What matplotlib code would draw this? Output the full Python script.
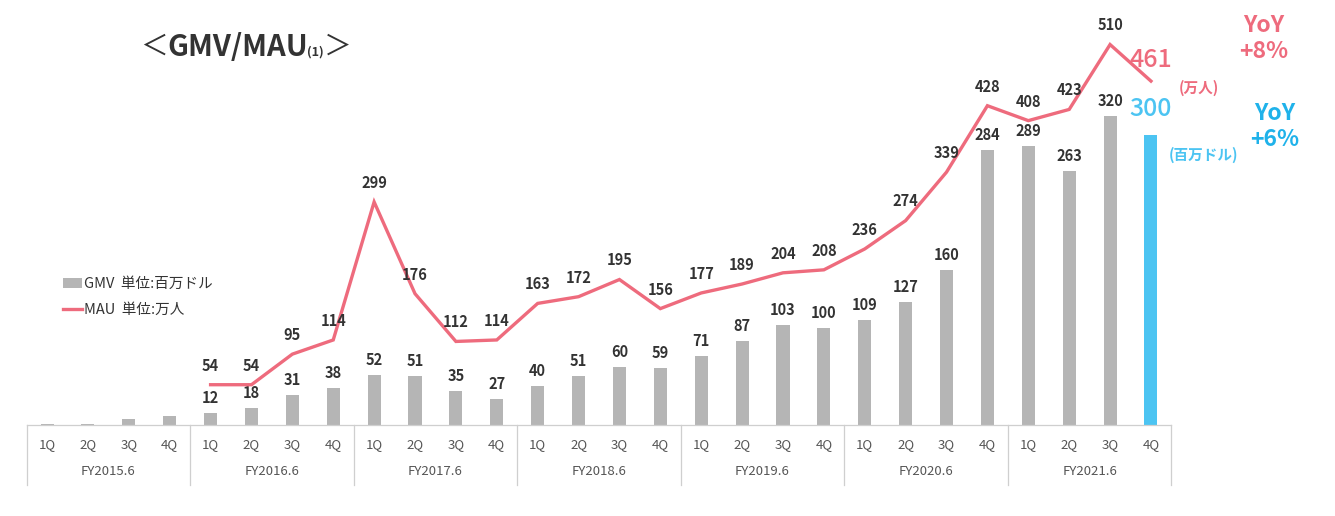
import numpy as np
import matplotlib.pyplot as plt
from matplotlib.patches import Patch
from matplotlib.lines import Line2D

plt.rcParams['font.family'] = ['Noto Sans CJK JP', 'DejaVu Sans']

# Data
quarters = ['1Q', '2Q', '3Q', '4Q']
fiscal_years = ['FY2015.6', 'FY2016.6', 'FY2017.6', 'FY2018.6',
                'FY2019.6', 'FY2020.6', 'FY2021.6']
# GMV (百万ドル), one per quarter
gmv = [1, 1, 6, 9, 12, 18, 31, 38, 52, 51, 35, 27, 40, 51, 60, 59,
       71, 87, 103, 100, 109, 127, 160, 284, 289, 263, 320, 300]
# MAU (万人), starts at FY2016.6 1Q
mau = [54, 54, 95, 114, 299, 176, 112, 114, 163, 172, 195, 156,
       177, 189, 204, 208, 236, 274, 339, 428, 408, 423, 510, 461]
mau_start = 4

grey = '#b5b5b5'
blue = '#4cc4f2'
pink = '#ee6b7d'
dark = '#333333'
tick_color = '#555555'

W, H = 1335, 516
fig = plt.figure(figsize=(W / 100, H / 100), dpi=100)
ax = fig.add_axes([26.6 / W, 91 / H, 1144.8 / W, 425 / H])
x = np.arange(len(gmv))
ax.set_xlim(-0.5, len(gmv) - 0.5)
ax.set_ylim(0, 439.5)

# Bars
bar_colors = [grey] * (len(gmv) - 1) + [blue]
ax.bar(x, gmv, width=0.32, color=bar_colors, zorder=2)

for spine in ax.spines.values():
    spine.set_visible(False)
ax.spines['bottom'].set_visible(True)
ax.spines['bottom'].set_color('#cfcfcf')
ax.spines['bottom'].set_linewidth(0.9)
ax.set_xticks([])
ax.set_yticks([])

# Bar value labels (FY2015 bars are not labeled)
for i in range(4, len(gmv) - 1):
    ax.annotate(str(gmv[i]), (x[i], gmv[i]), xytext=(0, 5),
                textcoords='offset points', ha='center', va='bottom',
                fontsize=10.5, fontweight='bold', color=dark)
ax.annotate(str(gmv[-1]), (x[-1], gmv[-1]), xytext=(0, 9),
            textcoords='offset points', ha='center', va='bottom',
            fontsize=18, fontweight='medium', color=blue)

# MAU line
ax2 = ax.twinx()
ax2.set_ylim(0, 569.7)
ax2.plot(x[mau_start:], mau, color=pink, lw=2.4, zorder=3,
         solid_joinstyle='miter')
for spine in ax2.spines.values():
    spine.set_visible(False)
ax2.set_yticks([])
for j, v in enumerate(mau[:-1]):
    ax2.annotate(str(v), (x[mau_start + j], v), xytext=(0, 8),
                 textcoords='offset points', ha='center', va='bottom',
                 fontsize=10.5, fontweight='bold', color=dark)
ax2.annotate(str(mau[-1]), (x[-1], mau[-1]), xytext=(0, 6),
             textcoords='offset points', ha='center', va='bottom',
             fontsize=18, fontweight='medium', color=pink)

# Category table under the axis
tr = ax.get_xaxis_transform()
for i in range(len(gmv)):
    ax.text(x[i], -0.047, quarters[i % 4], transform=tr, ha='center',
            va='center', fontsize=9.5, color=tick_color)
for k, fy in enumerate(fiscal_years):
    ax.text(4 * k + 1.5, -0.11, fy, transform=tr, ha='center',
            va='center', fontsize=9.5, color=tick_color)
for k in range(len(fiscal_years) + 1):
    ax.plot([4 * k - 0.5, 4 * k - 0.5], [0, -0.14], transform=tr,
            color='#cfcfcf', lw=0.9, clip_on=False)

# Title
t1 = fig.text(140 / W, 1 - 47 / H, '＜', fontsize=20, color=dark,
              va='center', ha='left')
t2 = fig.text(167 / W, 1 - 47 / H, 'GMV/MAU', fontsize=21, fontweight='bold',
              color=dark, va='center', ha='left')
t3 = ax.annotate('(1)', xy=(1, 0.1), xycoords=t2, xytext=(-0.5, 0),
                 textcoords='offset points', fontsize=9, fontweight='bold',
                 color=dark, ha='left', va='bottom')
t4 = ax.annotate('＞', xy=(1, 0), xycoords=t3, xytext=(0, -2),
                 textcoords='offset points', fontsize=20, color=dark,
                 ha='left', va='bottom')
t4.set_annotation_clip(False)
t3.set_annotation_clip(False)

# Legend
handles = [Patch(facecolor=grey, edgecolor='none'),
           Line2D([0], [0], color=pink, lw=2.4)]
labels = ['GMV  単位:百万ドル', 'MAU  単位:万人']
ax.legend(handles, labels, loc='upper left',
          bbox_to_anchor=(56 / W, 1 - 270 / H), bbox_transform=fig.transFigure,
          frameon=False, fontsize=10.5, handlelength=1.3, handletextpad=0.1,
          labelspacing=0.8, borderpad=0, labelcolor=dark)

# Units and YoY notes
fig.text(1199 / W, 1 - 88 / H, '(万人)', fontsize=10.5, fontweight='bold',
         color=pink, ha='center', va='center')
fig.text(1204 / W, 1 - 155 / H, '(百万ドル)', fontsize=10.5, fontweight='bold',
         color=blue, ha='center', va='center')
fig.text(1264 / W, 1 - 25 / H, 'YoY', fontsize=16.5, fontweight='bold',
         color=pink, ha='center', va='center')
fig.text(1264 / W, 1 - 51 / H, '+8%', fontsize=16.5, fontweight='bold',
         color=pink, ha='center', va='center')
fig.text(1275 / W, 1 - 113 / H, 'YoY', fontsize=16.5, fontweight='bold',
         color='#1fb2ea', ha='center', va='center')
fig.text(1275 / W, 1 - 140 / H, '+6%', fontsize=16.5, fontweight='bold',
         color='#1fb2ea', ha='center', va='center')

fig.savefig('out.png', dpi=100)
